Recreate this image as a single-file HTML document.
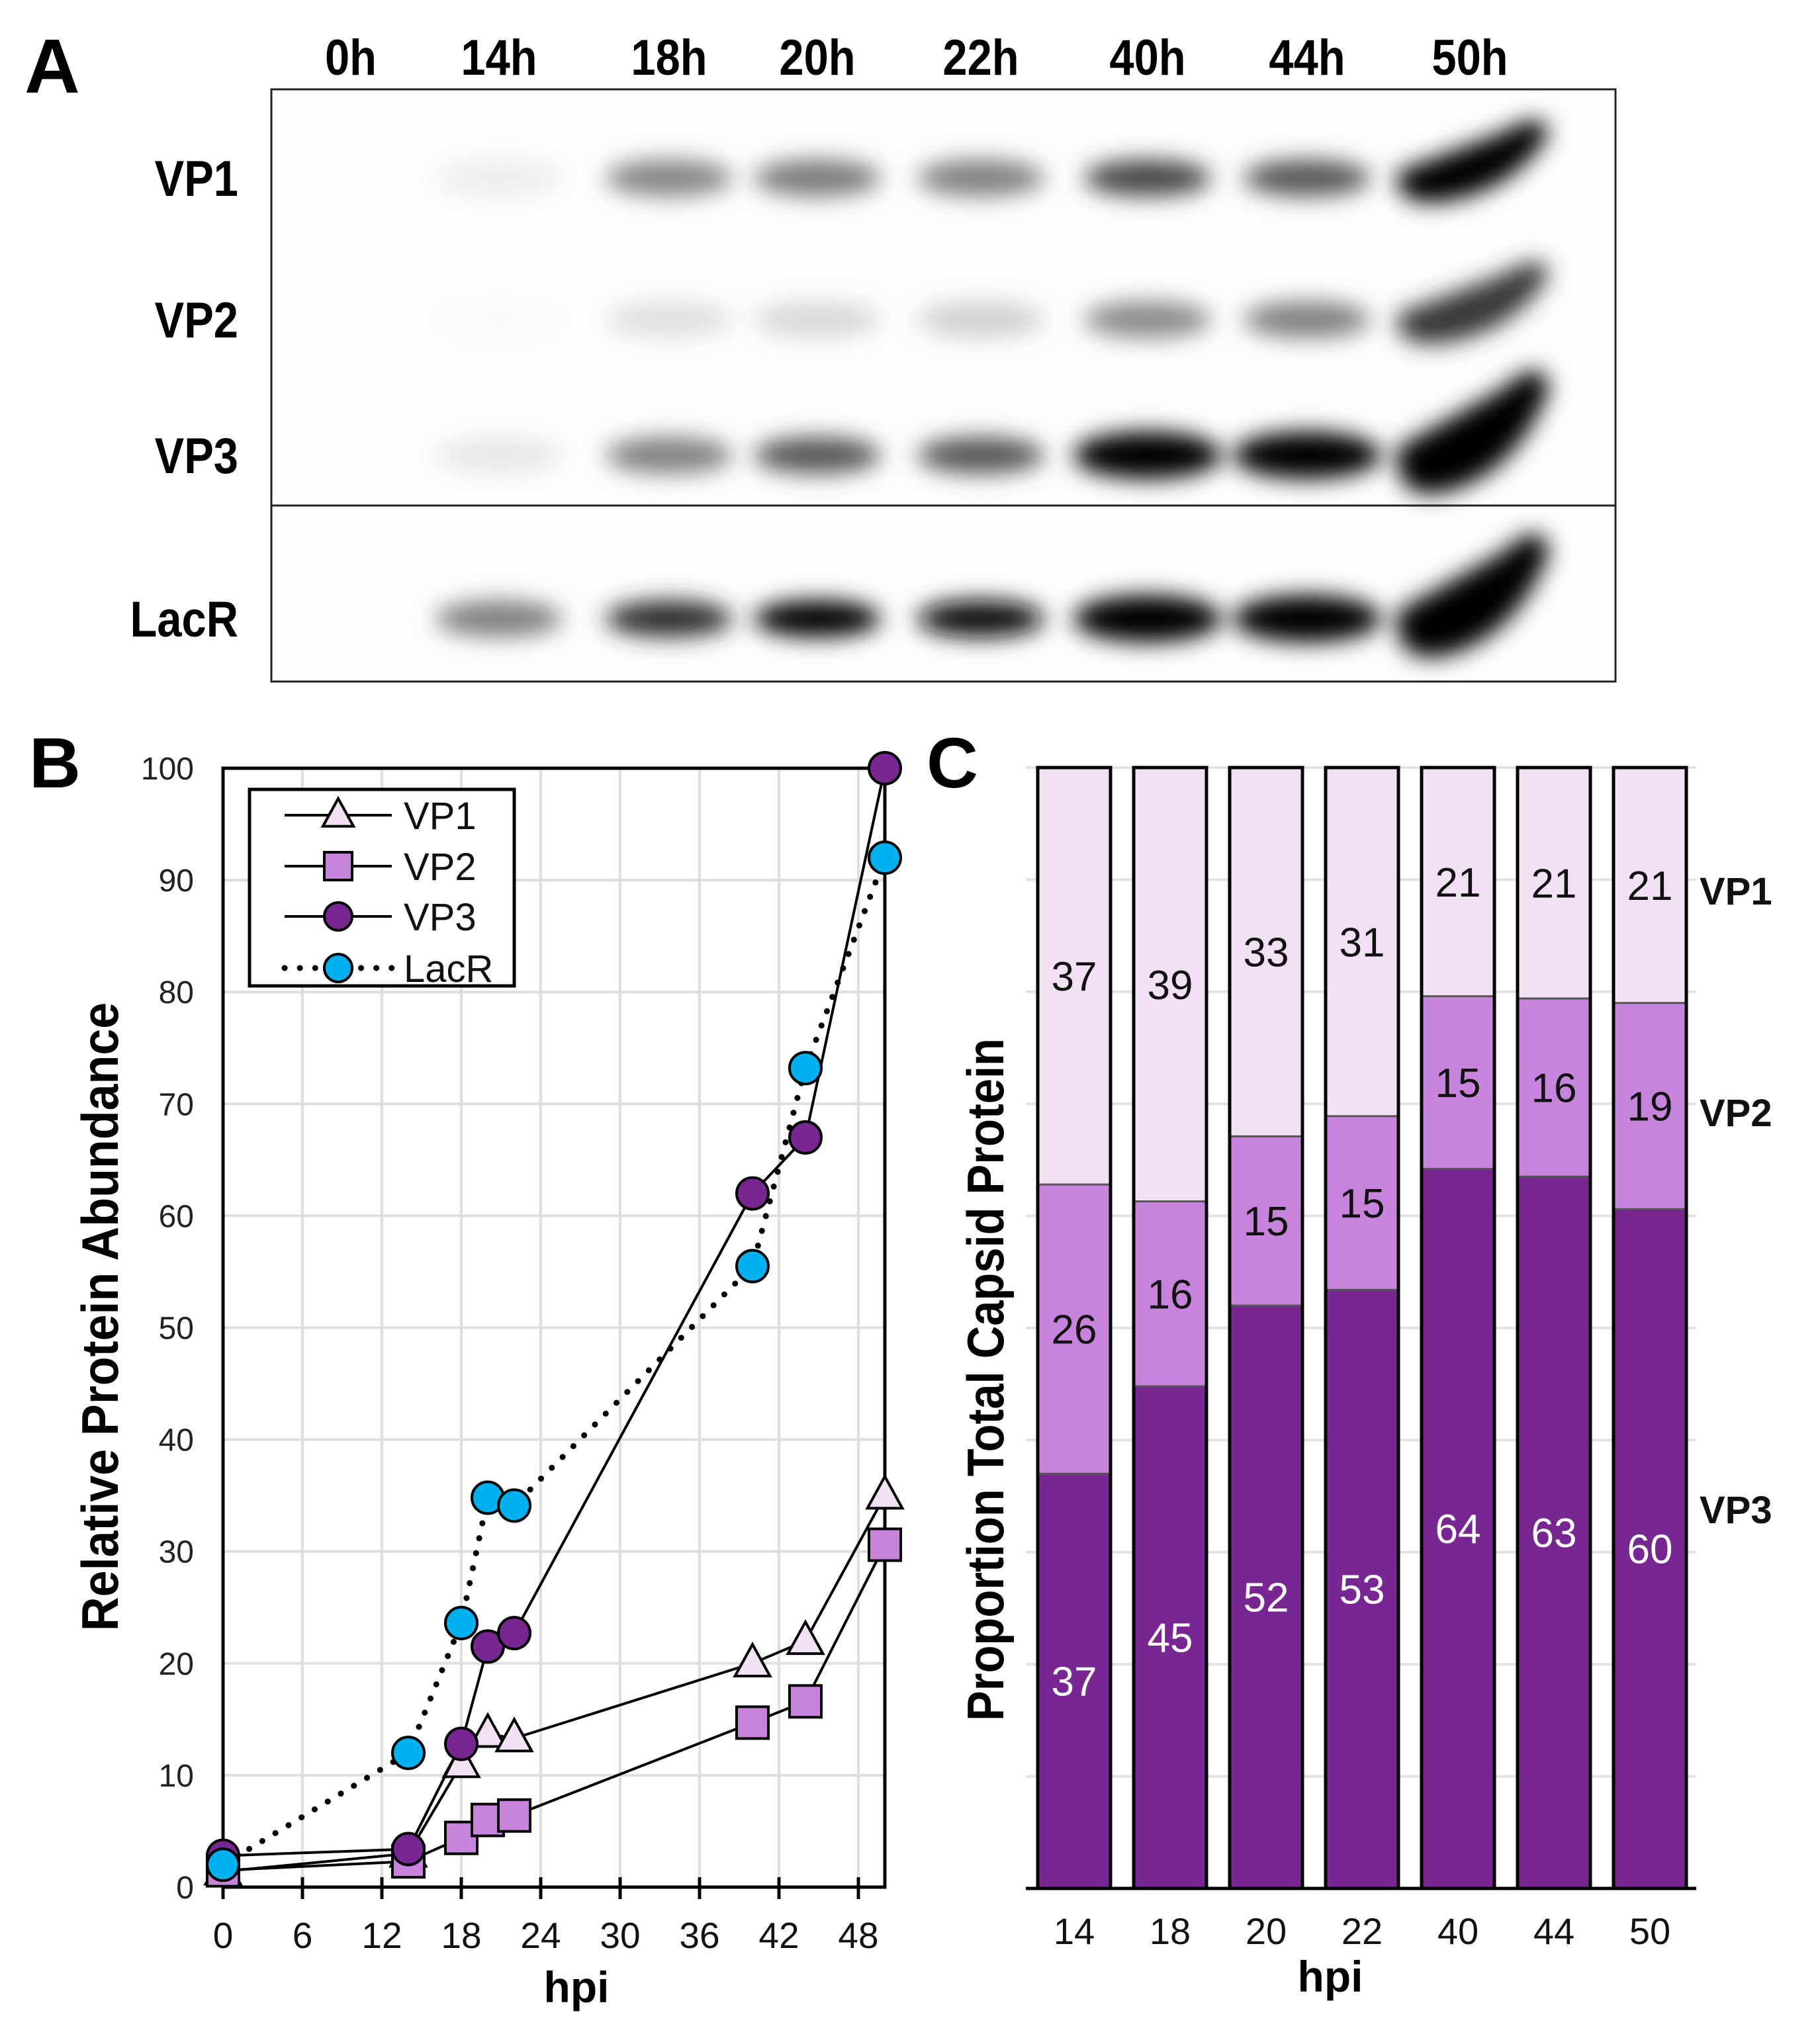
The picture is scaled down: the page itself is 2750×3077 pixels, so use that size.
<!DOCTYPE html>
<html><head><meta charset="utf-8">
<style>
html,body{margin:0;padding:0;background:#fff;}
svg{display:block;}
text{font-family:"Liberation Sans",sans-serif;}
</style></head>
<body>
<svg id="fig" width="2750" height="3077" viewBox="0 0 2750 3077" xmlns="http://www.w3.org/2000/svg">
<defs>
<filter id="blur" x="-50%" y="-100%" width="200%" height="300%"><feGaussianBlur stdDeviation="17"/></filter>
</defs>
<rect x="0" y="0" width="2750" height="3077" fill="#fff"/>
<g id="panelA">
<text x="37" y="140" font-size="116" font-weight="bold">A</text>
<rect x="410" y="135" width="2031" height="895" fill="#fdfdfd" stroke="#222" stroke-width="3"/>
<g id="bands" filter="url(#blur)"></g>
<line x1="410" y1="764" x2="2441" y2="764" stroke="#222" stroke-width="3"/>
<g id="laneLabels"></g>
<g id="rowLabels"></g>
</g>
<g id="panelB"></g>
<g id="panelC"></g>
</svg>
<script>
const NS="http://www.w3.org/2000/svg";
function mk(parent,tag,attrs,text){const e=document.createElementNS(NS,tag);for(const k in attrs)e.setAttribute(k,attrs[k]);if(text!==undefined)e.textContent=text;parent.appendChild(e);return e;}

/* ---------- Panel A data ---------- */
const laneNames=["0h","14h","18h","20h","22h","40h","44h","50h"];
const rowNames=["VP1","VP2","VP3","LacR"];
const vp1Band=[0,0.07,0.48,0.52,0.5,0.72,0.66,1];
const vp2Band=[0,0.02,0.12,0.15,0.18,0.46,0.5,0.78];
const vp3Band=[0,0.09,0.5,0.66,0.66,1,1,1];
const lacrBand=[0,0.5,0.82,1,0.95,1,1,1];
const laneX=[530,754,1011,1235,1482,1734,1975,2221];
const rowY=[269,483,688,935];
const bandData=[vp1Band,vp2Band,vp3Band,lacrBand];

const laneG=document.getElementById('laneLabels');
laneNames.forEach((n,i)=>{
  const t=mk(laneG,'text',{x:0,y:0,'font-size':76,'font-weight':'bold','text-anchor':'middle',transform:`translate(${laneX[i]},113) scale(0.88,1)`},n);
  
  
});
const rowG=document.getElementById('rowLabels');
rowNames.forEach((n,i)=>{
  const t=mk(rowG,'text',{x:0,y:0,'font-size':76,'font-weight':'bold','text-anchor':'end',transform:`translate(360,${rowY[i]+27}) scale(0.88,1)`},n);
  
  
});
const bandG=document.getElementById('bands');
bandData.forEach((arr,r)=>{
  arr.forEach((v,i)=>{
    if(v<=0)return;
    const g=Math.round(255*(1-v));
    const col=`rgb(${g},${g},${g})`;
    const big=(r>=2&&i>=5);
    const h=big?72:56;
    let e;
    if(i===7){
      const cx=laneX[i],cy=rowY[r]-(r>=2?20:15);
      const hh=(r>=2?90:60);
      e=mk(bandG,'path',{d:`M${cx-110},${cy+hh*0.1} Q${cx-115},${cy+hh} ${cx-40},${cy+hh*0.85} Q${cx+70},${cy+hh*0.55} ${cx+120},${cy-hh*0.9} Q${cx+110},${cy-hh*1.5} ${cx+50},${cy-hh*0.9} Q${cx-20},${cy-hh*0.45} ${cx-110},${cy+hh*0.1} Z`,fill:col});
    } else {
      e=mk(bandG,'ellipse',{cx:laneX[i],cy:rowY[r],rx:big?112:96,ry:h/2,fill:col});
    }
    
    
  });
});

/* ---------- Panel B data ---------- */
const hpi=[0,14,18,20,22,40,44,50];
const vp1Vals=[1.4,3,11,13.7,13.3,20,22,35];
const vp2Vals=[1.5,2.3,4.4,6,6.4,14.7,16.6,30.6];
const vp3Vals=[2.8,3.4,12.8,21.5,22.7,62,67,100];
const lacrVals=[2,12,23.6,34.8,34.1,55.5,73.2,92];
const xTicks=[0,6,12,18,24,30,36,42,48];
const yTicks=[0,10,20,30,40,50,60,70,80,90,100];

const B=document.getElementById('panelB');
const bx=v=>337+v*20;
const by=v=>2852-v*16.91;
let t;
t=mk(B,'text',{x:44,y:1190,'font-size':108,'font-weight':'bold'},'B');

xTicks.forEach(v=>{
  const l=mk(B,'line',{x1:bx(v),y1:1161,x2:bx(v),y2:2852,stroke:'#dedede','stroke-width':4});
  
});
yTicks.forEach(v=>{
  const l=mk(B,'line',{x1:337,y1:by(v),x2:1337,y2:by(v),stroke:'#dedede','stroke-width':4});
  
  const tt=mk(B,'text',{x:293,y:by(v)+17,'font-size':48,'text-anchor':'end',fill:'#222'},String(v));
  
});
xTicks.forEach(v=>{
  const l=mk(B,'line',{x1:bx(v),y1:2837,x2:bx(v),y2:2870,stroke:'#000','stroke-width':5});
  
  const tt=mk(B,'text',{x:bx(v),y:2944,'font-size':55,'text-anchor':'middle',fill:'#111'},String(v));
  
});
const frame=mk(B,'rect',{x:337,y:1161,width:1000,height:1691,fill:'none',stroke:'#000','stroke-width':5});

t=mk(B,'text',{x:0,y:0,'font-size':78,'font-weight':'bold','text-anchor':'middle',transform:'translate(178,1990) rotate(-90) scale(0.92,1)'},'Relative Protein Abundance');

t=mk(B,'text',{x:871,y:3026,'font-size':66,'font-weight':'bold','text-anchor':'middle'},'hpi');


function polyPts(vals){return hpi.map((h,i)=>bx(h)+','+by(vals[i])).join(' ');}
const series=[
 {name:'vp1',vals:vp1Vals,fill:'#f2e0f5',shape:'tri',dash:false},
 {name:'vp2',vals:vp2Vals,fill:'#c884dc',shape:'sq',dash:false},
 {name:'vp3',vals:vp3Vals,fill:'#782691',shape:'circ',dash:false},
 {name:'lacr',vals:lacrVals,fill:'#00b0ef',shape:'circ',dash:true}
];
function marker(g,shape,x,y,fill,s){
  let e;
  if(shape==='tri') e=mk(g,'polygon',{points:`${x},${y-s*0.6} ${x-s*0.55},${y+s*0.4} ${x+s*0.55},${y+s*0.4}`,fill:fill,stroke:'#000','stroke-width':4});
  else if(shape==='sq') e=mk(g,'rect',{x:x-s/2,y:y-s/2,width:s,height:s,fill:fill,stroke:'#000','stroke-width':4});
  else e=mk(g,'circle',{cx:x,cy:y,r:s/2,fill:fill,stroke:'#000','stroke-width':4});
  return e;
}
series.forEach(s=>{
  const g=mk(B,'g',{});
  
  const attrs={points:polyPts(s.vals),fill:'none',stroke:'#000','stroke-width':s.dash?9:4};
  if(s.dash){attrs['stroke-dasharray']='0.1 23';attrs['stroke-linecap']='round';}
  const pl=mk(g,'polyline',attrs);
  
  s.g=g;
});
series.forEach(s=>{
  hpi.forEach((h,i)=>{
    const m=marker(s.g,s.shape,bx(h),by(s.vals[i]),s.fill,48);
    
    
  });
});
const lg=mk(B,'g',{});

const lb=mk(lg,'rect',{x:377,y:1193,width:400,height:297,fill:'#fff',stroke:'#000','stroke-width':5});

const legNames=['VP1','VP2','VP3','LacR'];
const legY=[1232,1309,1385,1463];
series.forEach((s,i)=>{
  const eg=mk(lg,'g',{});
  
  const la={x1:430,y1:legY[i],x2:592,y2:legY[i],stroke:'#000','stroke-width':s.dash?9:4};
  if(s.dash){la['stroke-dasharray']='0.1 23';la['stroke-linecap']='round';}
  mk(eg,'line',la);
  marker(eg,s.shape,511,legY[i],s.fill,42);
  mk(eg,'text',{x:610,y:legY[i]+21,'font-size':58,fill:'#111'},legNames[i]);
});

/* ---------- Panel C data ---------- */
const cCats=["14","18","20","22","40","44","50"];
const cVP3=[37.0,44.8,52.0,53.4,64.2,63.5,60.6];
const cVP2=[25.8,16.5,15.1,15.5,15.4,15.9,18.4];
const cVP1=[37.2,38.7,32.9,31.1,20.4,20.6,21.0];
const cVP3Labels=["37","45","52","53","64","63","60"];
const cVP2Labels=["26","16","15","15","15","16","19"];
const cVP1Labels=["37","39","33","31","21","21","21"];

const C=document.getElementById('panelC');
const cx0=1568,cpitch=145,cw=110;
const cy=v=>2854-v*16.94;
t=mk(C,'text',{x:1400,y:1190,'font-size':108,'font-weight':'bold'},'C');

for(let v=0;v<=100;v+=10){
  const l=mk(C,'line',{x1:1550,y1:cy(v),x2:2563,y2:cy(v),stroke:'#e2e2e2','stroke-width':4});
  
}
const ax=mk(C,'line',{x1:1550,y1:2854,x2:2563,y2:2854,stroke:'#000','stroke-width':5});

const segs=[
 {name:'vp3',vals:cVP3,labels:cVP3Labels,fill:'#782691',tc:'#fff'},
 {name:'vp2',vals:cVP2,labels:cVP2Labels,fill:'#c884dc',tc:'#111'},
 {name:'vp1',vals:cVP1,labels:cVP1Labels,fill:'#f2e0f5',tc:'#111'}
];
cCats.forEach((c,i)=>{
  const x=cx0+i*cpitch;
  const g=mk(C,'g',{});
  
  let base=0;
  segs.forEach(s=>{
    const v=s.vals[i];
    const r=mk(g,'rect',{x:x,y:cy(base+v),width:cw,height:cy(base)-cy(base+v),fill:s.fill});
    
    
    if(base>0){mk(g,'line',{x1:x,y1:cy(base),x2:x+cw,y2:cy(base),stroke:'#555','stroke-width':3});}
    const tt=mk(g,'text',{x:x+cw/2,y:(cy(base)+cy(base+v))/2+22,'font-size':62,'text-anchor':'middle',fill:s.tc},s.labels[i]);
    
    
    base+=v;
  });
  const o=mk(g,'rect',{x:x,y:cy(base),width:cw,height:cy(0)-cy(base),fill:'none',stroke:'#000','stroke-width':5});
  
  const tl=mk(C,'text',{x:x+cw/2,y:2938,'font-size':56,'text-anchor':'middle',fill:'#111'},c);
  
});
t=mk(C,'text',{x:0,y:0,'font-size':78,'font-weight':'bold','text-anchor':'middle',transform:'translate(1516,2085) rotate(-90) scale(0.88,1)'},'Proportion Total Capsid Protein');

t=mk(C,'text',{x:2010,y:3010,'font-size':66,'font-weight':'bold','text-anchor':'middle'},'hpi');

const sideNames=['VP1','VP2','VP3'];
const sideX=[2568,2568,2568];
const sideY=[1367,1702,2302];
sideNames.forEach((n,i)=>{
  const tt=mk(C,'text',{x:sideX[i],y:sideY[i],'font-size':58,'font-weight':'bold',fill:'#111'},n);
  
  
});
</script>
</body></html>
